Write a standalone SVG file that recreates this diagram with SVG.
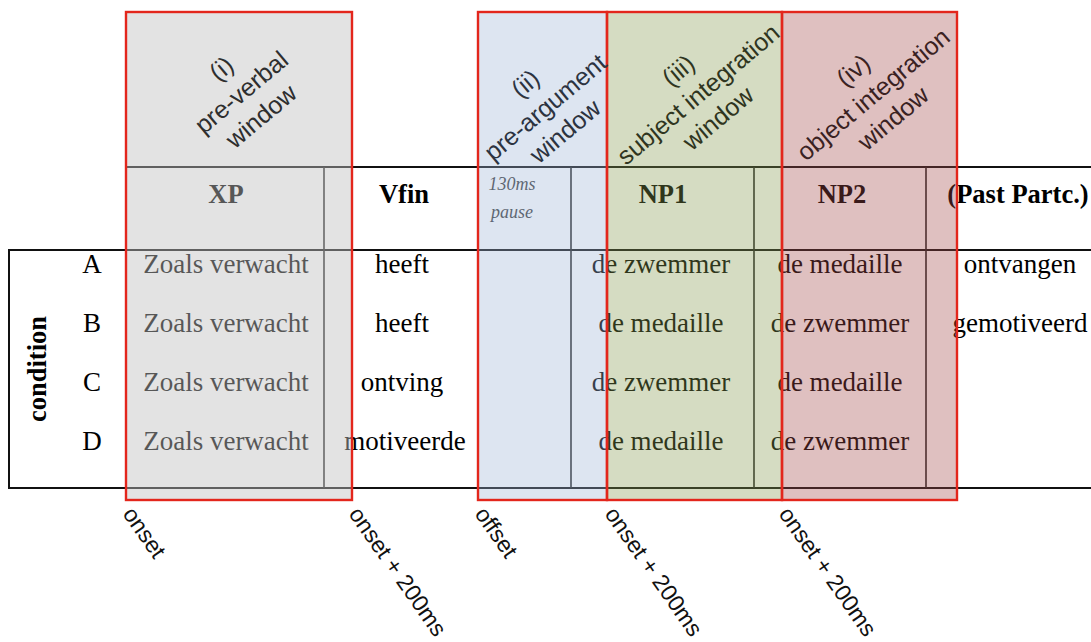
<svg xmlns="http://www.w3.org/2000/svg" width="1091" height="642" viewBox="0 0 1091 642">
<style>
.cell{font-family:"Liberation Serif","Times New Roman",serif;font-size:27px;fill:#000;text-anchor:middle}
.hd{font-weight:bold;font-size:26.5px}
.pause{font-family:"Liberation Serif",serif;font-style:italic;font-size:18px;fill:#3c3c3c;text-anchor:middle}
.lab{font-family:"Liberation Sans",Arial,sans-serif;font-size:25px;text-anchor:middle}
.tick{font-family:"Liberation Sans",Arial,sans-serif;font-size:23px;fill:#111}
.hl{stroke:#111;stroke-width:2;fill:none}
.vl{stroke:#222;stroke-width:1.6;fill:none}
.win{stroke:#e3261c;stroke-width:2.4}
</style>
<rect width="1091" height="642" fill="#fff"/>

<g id="table">
  <g id="table-lines">
    <line class="hl" x1="126" y1="167" x2="1091" y2="167"/>
    <line class="hl" x1="9" y1="250" x2="1091" y2="250"/>
    <line class="hl" x1="9" y1="488" x2="1091" y2="488"/>
    <line class="hl" x1="9" y1="249" x2="9" y2="489"/>
    <line class="vl" x1="324" y1="167" x2="324" y2="488"/>
    <line class="vl" x1="478" y1="167" x2="478" y2="488"/>
    <line class="vl" x1="571" y1="167" x2="571" y2="488"/>
    <line class="vl" x1="754" y1="167" x2="754" y2="488"/>
    <line class="vl" x1="926" y1="167" x2="926" y2="488"/>
  </g>
  <g id="header">
    <text class="cell hd" x="226" y="203">XP</text>
    <text class="cell hd" x="404" y="203">Vfin</text>
    <text class="pause" x="512" y="190">130ms</text>
    <text class="pause" x="512" y="218">pause</text>
    <text class="cell hd" x="663" y="203">NP1</text>
    <text class="cell hd" x="842" y="203">NP2</text>
    <text class="cell hd" x="1018" y="203">(Past Partc.)</text>
  </g>
  <g id="condition">
    <text class="cell hd" transform="translate(46,369) rotate(-90)">condition</text>
    <text class="cell" x="92" y="273">A</text>
    <text class="cell" x="92" y="332">B</text>
    <text class="cell" x="92" y="391">C</text>
    <text class="cell" x="92" y="450">D</text>
  </g>
  <g id="row-A">
    <text class="cell" x="226" y="273">Zoals verwacht</text>
    <text class="cell" x="402" y="273">heeft</text>
    <text class="cell" x="661" y="273">de zwemmer</text>
    <text class="cell" x="840" y="273">de medaille</text>
    <text class="cell" x="1020" y="273">ontvangen</text>
  </g>
  <g id="row-B">
    <text class="cell" x="226" y="332">Zoals verwacht</text>
    <text class="cell" x="402" y="332">heeft</text>
    <text class="cell" x="661" y="332">de medaille</text>
    <text class="cell" x="840" y="332">de zwemmer</text>
    <text class="cell" x="1020" y="332">gemotiveerd</text>
  </g>
  <g id="row-C">
    <text class="cell" x="226" y="391">Zoals verwacht</text>
    <text class="cell" x="402" y="391">ontving</text>
    <text class="cell" x="661" y="391">de zwemmer</text>
    <text class="cell" x="840" y="391">de medaille</text>
  </g>
  <g id="row-D">
    <text class="cell" x="226" y="450">Zoals verwacht</text>
    <text class="cell" x="405" y="450">motiveerde</text>
    <text class="cell" x="661" y="450">de medaille</text>
    <text class="cell" x="840" y="450">de zwemmer</text>
  </g>
</g>

<g id="win-i"><rect class="win" x="126" y="12" width="226" height="488" fill="#c1c1c1" fill-opacity="0.45"/></g>
<g id="win-ii"><rect class="win" x="478" y="12" width="129" height="488" fill="#9eb5d8" fill-opacity="0.35"/></g>
<g id="win-iii"><rect class="win" x="607" y="12" width="175" height="488" fill="#879b51" fill-opacity="0.35"/></g>
<g id="win-iv"><rect class="win" x="782" y="12" width="175" height="488" fill="#a44b4b" fill-opacity="0.35"/></g>

<g id="window-labels">
  <g transform="translate(241,92) rotate(-40)" fill="#2e2e2e">
    <text class="lab" x="0" y="-22">(i)</text>
    <text class="lab" x="0" y="9">pre-verbal</text>
    <text class="lab" x="0" y="40">window</text>
  </g>
  <g transform="translate(545,107) rotate(-40)" fill="#2c3340">
    <text class="lab" x="0" y="-22">(ii)</text>
    <text class="lab" x="0" y="9">pre-argument</text>
    <text class="lab" x="0" y="40">window</text>
  </g>
  <g transform="translate(698,94) rotate(-40)" fill="#2f3520">
    <text class="lab" x="0" y="-22">(iii)</text>
    <text class="lab" x="0" y="9">subject integration</text>
    <text class="lab" x="0" y="40">window</text>
  </g>
  <g transform="translate(873,94) rotate(-40)" fill="#3a2222">
    <text class="lab" x="0" y="-22">(iv)</text>
    <text class="lab" x="0" y="9">object integration</text>
    <text class="lab" x="0" y="40">window</text>
  </g>
</g>

<g id="time-labels">
  <text class="tick" transform="translate(122,514) rotate(55)">onset</text>
  <text class="tick" transform="translate(348,514) rotate(55)">onset + 200ms</text>
  <text class="tick" transform="translate(474,514) rotate(55)">offset</text>
  <text class="tick" transform="translate(604,514) rotate(55)">onset + 200ms</text>
  <text class="tick" transform="translate(778,514) rotate(55)">onset + 200ms</text>
</g>
</svg>
